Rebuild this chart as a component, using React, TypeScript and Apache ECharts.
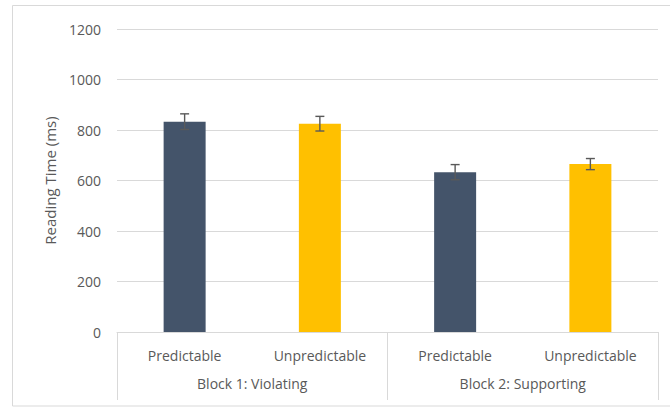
import React, { useEffect, useRef } from "react";
import * as echarts from "echarts";

const conditions = ["Predictable", "Unpredictable", "Predictable", "Unpredictable"];
const blocks = ["Block 1: Violating", "Block 2: Supporting"];
const readingTimes = [833, 825, 633, 665];
const errors = [31, 29, 30, 22];
const barColors = ["#44546A", "#FFC000", "#44546A", "#FFC000"];
const yTicks = { min: 0, max: 1200, interval: 200 };

const FONT = "'Open Sans', Lato, sans-serif";
const TXT = "#595959";

export default function App() {
  const ref = useRef<HTMLDivElement>(null);
  useEffect(() => {
    if (!ref.current) return;
    const chart = echarts.init(ref.current, undefined, { renderer: "svg" });
    const errData = readingTimes.map((v, i) => [i, v - errors[i], v + errors[i]]);
    chart.setOption({
      animation: false,
      backgroundColor: "#ffffff",
      textStyle: { fontFamily: FONT },
      graphic: [
        {
          type: "rect",
          shape: { x: 12.5, y: 5.5, width: 680, height: 400.5 },
          style: { fill: "none", stroke: "#d9d9d9", lineWidth: 1 },
          silent: true,
        },
      ],
      grid: { left: 117, right: 12, top: 29, bottom: 75 },
      xAxis: [
        {
          type: "category",
          data: conditions,
          axisLine: { show: true, lineStyle: { color: "#d9d9d9" } },
          axisTick: { show: false },
          axisLabel: { color: TXT, fontSize: 14, fontFamily: FONT, margin: 16 },
        },
        {
          type: "category",
          data: blocks,
          position: "bottom",
          axisLine: { show: false },
          axisTick: { show: true, length: 68, lineStyle: { color: "#d9d9d9" } },
          axisLabel: { color: TXT, fontSize: 14, fontFamily: FONT, margin: 44 },
          splitLine: { show: false },
        },
      ],
      yAxis: {
        type: "value",
        min: yTicks.min,
        max: yTicks.max,
        interval: yTicks.interval,
        name: "Reading Time (ms)",
        nameLocation: "middle",
        nameGap: 60,
        nameTextStyle: { color: TXT, fontSize: 15, fontFamily: FONT },
        axisLine: { show: false },
        axisTick: { show: false },
        axisLabel: {
          color: TXT,
          fontSize: 14,
          fontFamily: FONT,
          margin: 16,
          formatter: (v: number) => String(v),
        },
        splitLine: { lineStyle: { color: "#d9d9d9" } },
      },
      series: [
        {
          type: "bar",
          xAxisIndex: 0,
          barWidth: 42,
          data: readingTimes.map((v, i) => ({ value: v, itemStyle: { color: barColors[i] } })),
        },
        {
          type: "custom",
          xAxisIndex: 0,
          data: errData,
          z: 10,
          renderItem: (params: any, api: any) => {
            const x = api.value(0);
            const lo = api.coord([x, api.value(1)]);
            const hi = api.coord([x, api.value(2)]);
            const hw = 4.5;
            const style = { stroke: "#595959", lineWidth: 1.4 };
            return {
              type: "group",
              children: [
                { type: "line", shape: { x1: lo[0], y1: lo[1], x2: hi[0], y2: hi[1] }, style },
                { type: "line", shape: { x1: hi[0] - hw, y1: hi[1], x2: hi[0] + hw, y2: hi[1] }, style },
                { type: "line", shape: { x1: lo[0] - hw, y1: lo[1], x2: lo[0] + hw, y2: lo[1] }, style },
              ],
            };
          },
        },
      ],
    });
    return () => chart.dispose();
  }, []);
  return (
    <div
      ref={ref}
      style={{ position: "fixed", left: 0, top: 0, width: 670, height: 407 }}
    />
  );
}
